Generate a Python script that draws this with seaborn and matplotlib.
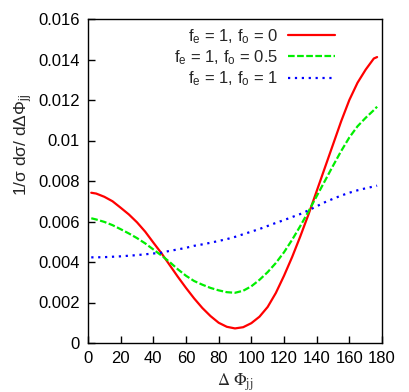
import numpy as np
import pandas as pd
import matplotlib
matplotlib.use("Agg")
import matplotlib.pyplot as plt
import seaborn as sns

# ---- data ----
dphi = [2, 5, 10, 15, 20, 25, 30, 35, 40, 45, 50, 55, 60, 65, 70, 75, 80, 85, 90,
        95, 100, 105, 110, 115, 120, 125, 130, 135, 140, 145, 150, 155, 160, 165,
        170, 175, 177]

red_fo0 = [0.00742, 0.00738, 0.00722, 0.00700, 0.00668, 0.00635, 0.00596, 0.00550,
           0.00496, 0.00443, 0.00385, 0.00327, 0.00272, 0.00220, 0.00173, 0.00133,
           0.00100, 0.00080, 0.00072, 0.00078, 0.00098, 0.00130, 0.00178, 0.00247,
           0.00332, 0.00425, 0.00527, 0.00635, 0.00750, 0.00865, 0.00980, 0.01095,
           0.01200, 0.01285, 0.01350, 0.01405, 0.01412]

green_fo05 = [0.00616, 0.00610, 0.00598, 0.00582, 0.00562, 0.00541, 0.00518, 0.00492,
              0.00462, 0.00432, 0.00400, 0.00364, 0.00332, 0.00306, 0.00288, 0.00272,
              0.00260, 0.00251, 0.00248, 0.00258, 0.00280, 0.00312, 0.00350, 0.00395,
              0.00448, 0.00510, 0.00578, 0.00650, 0.00725, 0.00800, 0.00875, 0.00948,
              0.01015, 0.01070, 0.01112, 0.01150, 0.01167]

blue_fo1 = [0.00423, 0.00423, 0.00424, 0.00426, 0.00428, 0.00431, 0.00434, 0.00438,
            0.00442, 0.00446, 0.00455, 0.00462, 0.00470, 0.00480, 0.00487, 0.00495,
            0.00504, 0.00513, 0.00524, 0.00537, 0.00550, 0.00563, 0.00578, 0.00593,
            0.00607, 0.00622, 0.00637, 0.00655, 0.00675, 0.00695, 0.00712, 0.00728,
            0.00742, 0.00754, 0.00764, 0.00773, 0.00777]

series_labels = [r"f$_{\rm e}$ = 1, f$_{\rm o}$ = 0",
                 r"f$_{\rm e}$ = 1, f$_{\rm o}$ = 0.5",
                 r"f$_{\rm e}$ = 1, f$_{\rm o}$ = 1"]

xticks = [0, 20, 40, 60, 80, 100, 120, 140, 160, 180]
yticks = [0, 0.002, 0.004, 0.006, 0.008, 0.01, 0.012, 0.014, 0.016]
ytick_labels = ["0", "0.002", "0.004", "0.006", "0.008", "0.01", "0.012", "0.014", "0.016"]

df = pd.DataFrame({
    "dphi": dphi * 3,
    "val": red_fo0 + green_fo05 + blue_fo1,
    "series": [series_labels[0]] * len(dphi) + [series_labels[1]] * len(dphi)
              + [series_labels[2]] * len(dphi),
})

# ---- style ----
sns.set_style("ticks")
plt.rcParams["font.family"] = ["Liberation Sans", "DejaVu Sans"]
plt.rcParams["mathtext.fontset"] = "custom"
plt.rcParams["mathtext.rm"] = "Liberation Sans"
plt.rcParams["mathtext.it"] = "Liberation Sans:italic"
plt.rcParams["mathtext.bf"] = "Liberation Sans:bold"

fig = plt.figure(figsize=(4.09, 3.92), dpi=100)
ax = fig.add_axes([88 / 409, 1 - 343 / 392, 294 / 409, 324 / 392])

palette = {series_labels[0]: "#ff0000", series_labels[1]: "#00ee00",
           series_labels[2]: "#0000ff"}
dashes = {series_labels[0]: "", series_labels[1]: (3.0, 1.1),
          series_labels[2]: (1.0, 2.1)}

sns.lineplot(data=df, x="dphi", y="val", hue="series", style="series",
             palette=palette, dashes=dashes, linewidth=1.6, ax=ax,
             hue_order=series_labels, style_order=series_labels)

ax.set_xlim(0, 180)
ax.set_ylim(0, 0.016)
ax.set_xticks(xticks)
ax.set_xticklabels([str(t) for t in xticks])
ax.set_yticks(yticks)
ax.set_yticklabels(ytick_labels)
ax.tick_params(direction="in", length=5, width=1, labelsize=12, colors="black",
               pad=6)
for s in ax.spines.values():
    s.set_visible(True)
    s.set_linewidth(1.0)
    s.set_color("black")

ax.set_xlabel(r"$\Delta\ \Phi_{\rm jj}$", fontsize=12, math_fontfamily="stix",
              labelpad=4)
ax.set_ylabel(r"1/σ dσ/ dΔΦ$_{\rm jj}$", fontsize=12.5)
ax.yaxis.set_label_coords(-0.18, 0.61)

leg = ax.legend(loc="upper right", bbox_to_anchor=(0.84, 0.975), frameon=False,
                markerfirst=False, fontsize=12, handlelength=2.8,
                handletextpad=0.6, labelspacing=0.15, borderpad=0,
                borderaxespad=0)

fig.savefig("out.png", dpi=100)
